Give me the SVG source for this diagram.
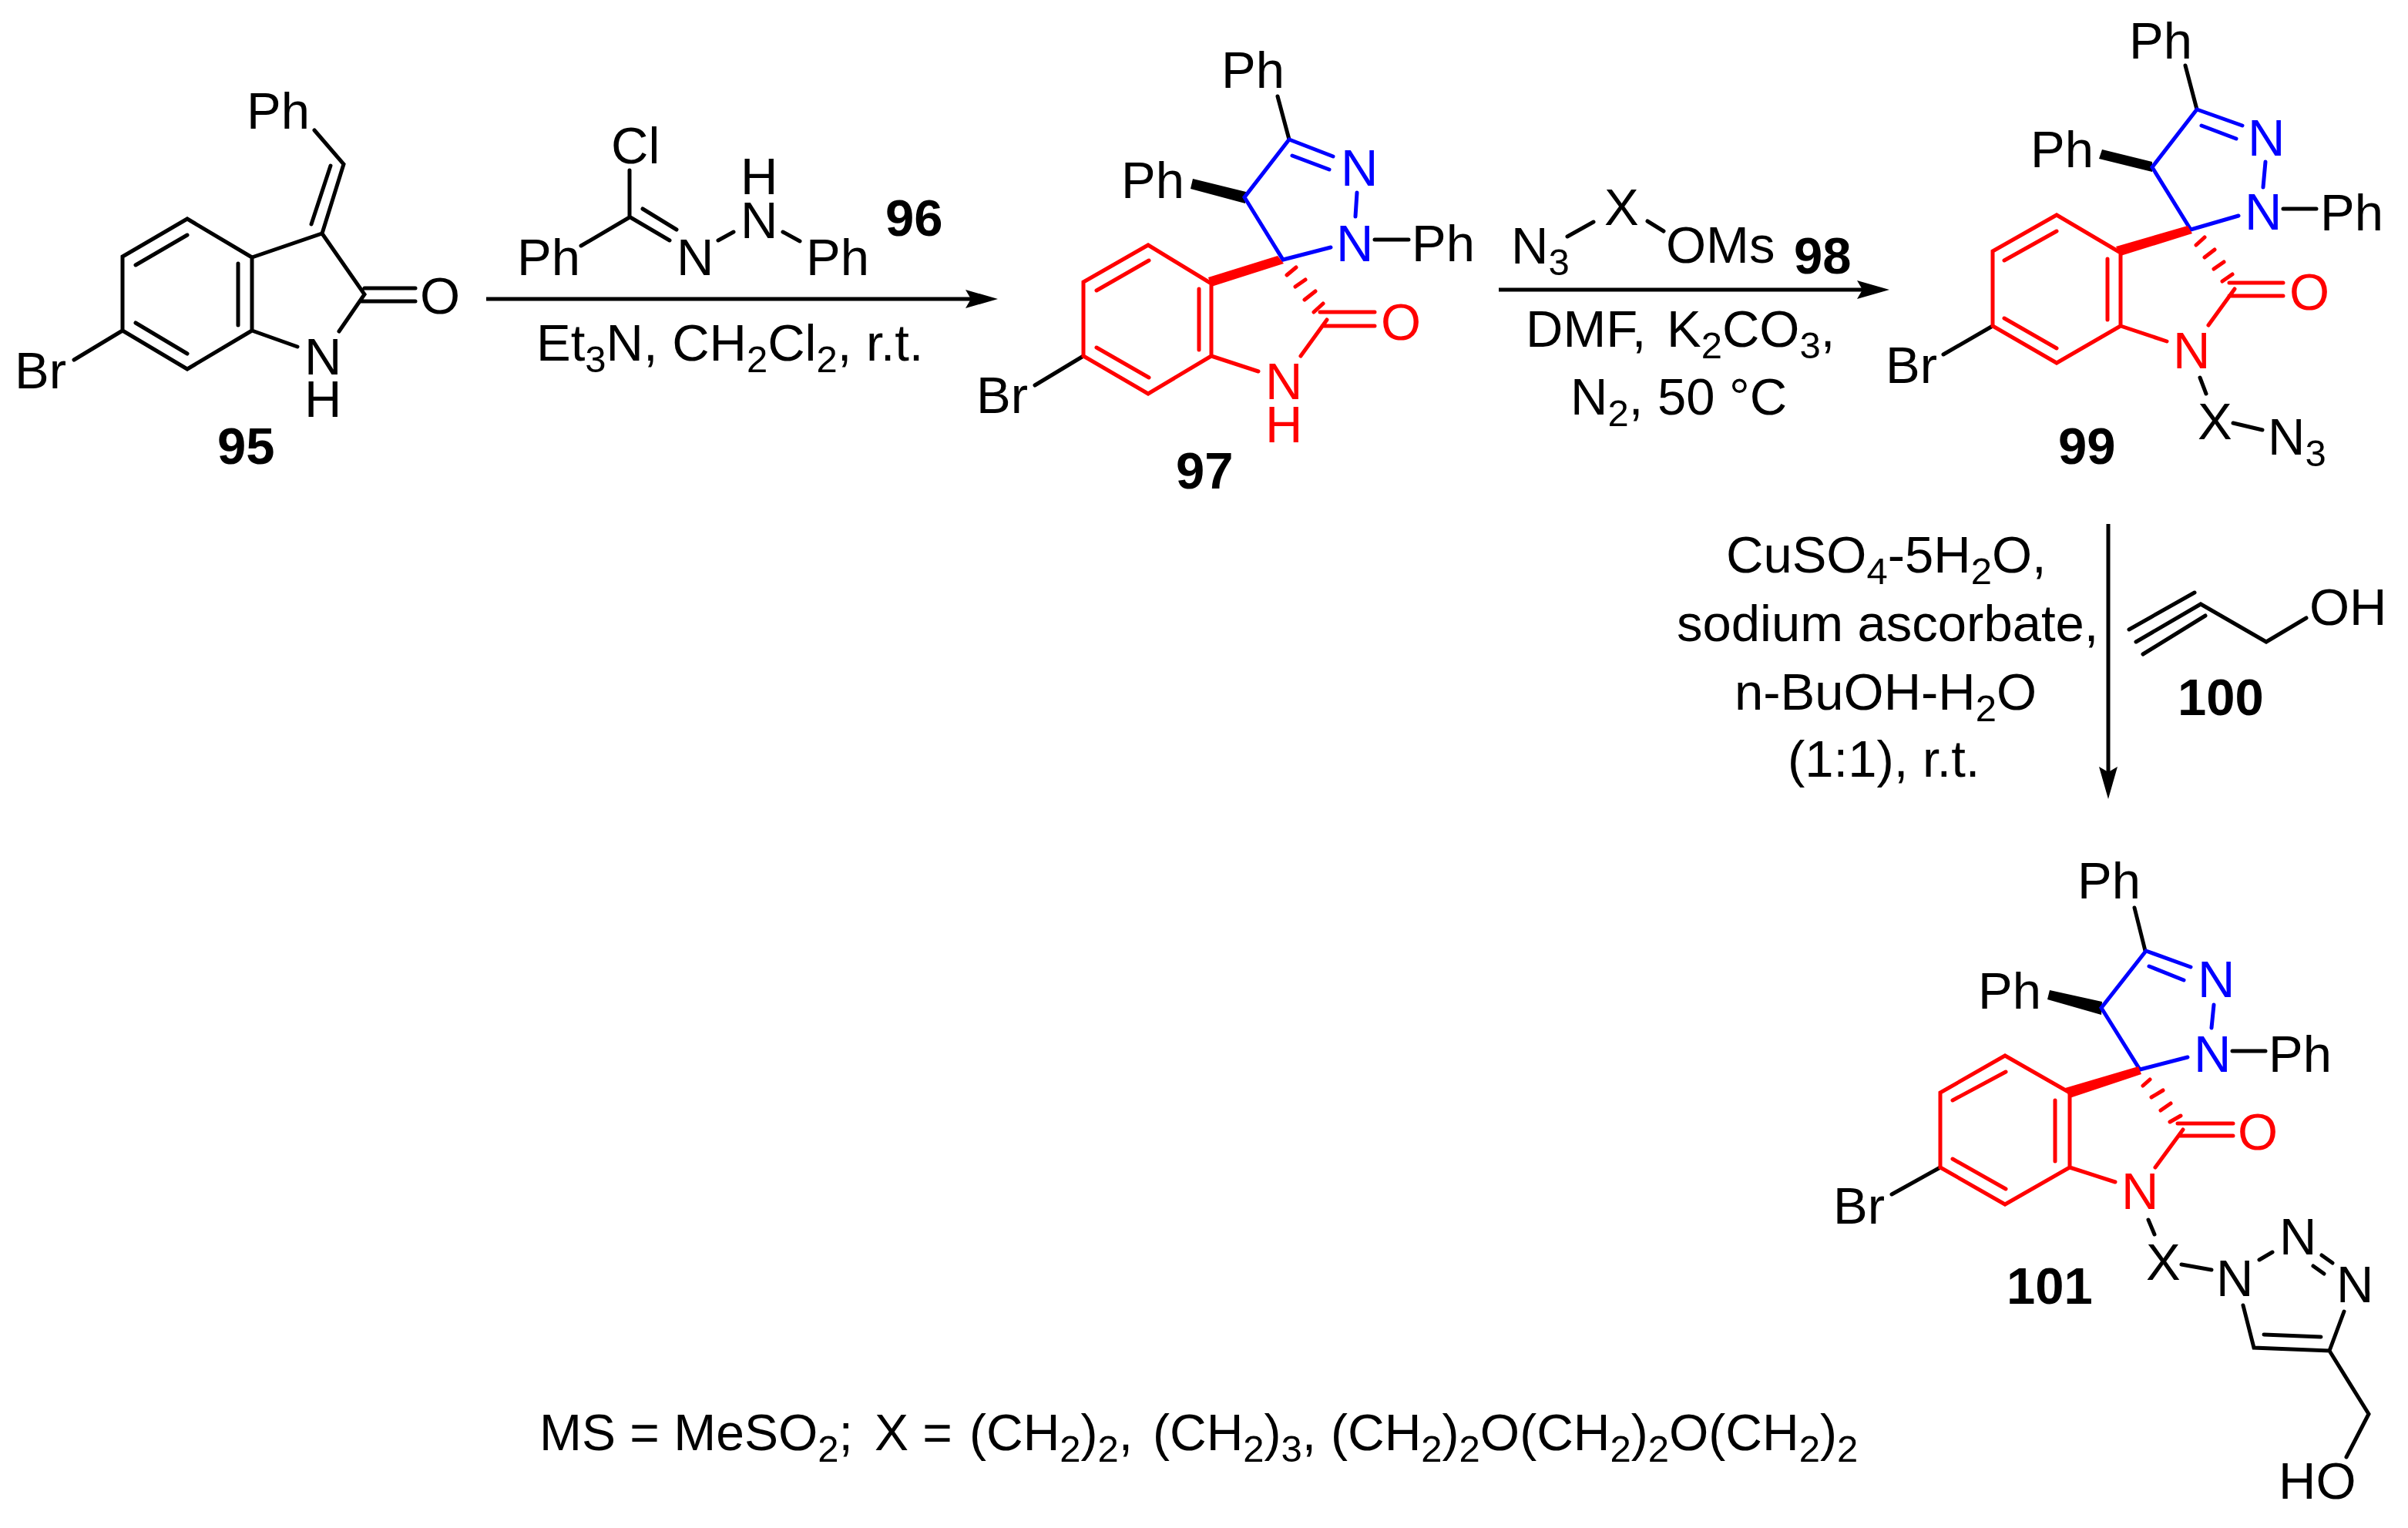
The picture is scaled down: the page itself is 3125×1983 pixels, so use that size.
<svg xmlns="http://www.w3.org/2000/svg" width="3125" height="1983" viewBox="0 0 3125 1983">
<style>
text{font-family:"Liberation Sans",Arial,sans-serif;font-size:67px;fill:#000}
text.r{fill:#f00}
text.b{fill:#00f}
text.n{font-weight:bold}
text.f{font-size:66px}
.s{font-size:49px}
path{fill:none;stroke-width:5;stroke-linecap:round;stroke-linejoin:miter}
path.k{stroke:#000}
path.r{stroke:#f00}
path.b{stroke:#00f}
polygon.k{fill:#000}
polygon.r{fill:#f00}
.a{stroke:#000;stroke-width:5;fill:none}
</style>
<defs>
<marker id="h" markerUnits="userSpaceOnUse" markerWidth="42" markerHeight="24" viewBox="0 0 42 24" refX="32" refY="12" orient="auto"><path d="M0,0L42,12L0,24L7,12Z" style="fill:#000;stroke:none"/></marker>
</defs>
<rect width="3125" height="1983" fill="#fff"/>

<g id="connectors">
<line class="a" x1="631" y1="388" x2="1285" y2="388" marker-end="url(#h)"/>
<line class="a" x1="1945" y1="376" x2="2442" y2="376" marker-end="url(#h)"/>
<line class="a" x1="2736" y1="680" x2="2736" y2="1027" marker-end="url(#h)"/>
</g>

<g id="node-95">
<path class="k" d="M243,284L159,333V429L243,479L327,429V334ZM176,344L243,305M176,419L243,459M309,342V422M327,334L418,303L473,382L440,430M327,429L386,450M418,303L446,213L408,169M404,291L429,215M473,374H539M469,391H539M159,429L96,467"/>
<text x="320" y="167">Ph</text><text x="545" y="407">O</text><text x="395" y="486">N</text><text x="395" y="541">H</text><text x="19" y="504">Br</text>
<text class="n" x="282" y="602">95</text>
</g>

<g id="node-96">
<path class="k" d="M817,221V282L754,319M818,282L869,312M834,271L878,298M932,312L952,301M1016,301L1038,313"/>
<text x="793" y="212">Cl</text><text x="671" y="357">Ph</text><text x="878" y="357">N</text><text x="961" y="309">N</text><text x="961" y="252">H</text><text x="1046" y="357">Ph</text>
<text class="n" x="1149" y="306">96</text>
</g>

<g id="conditions-1">
<text x="696" y="468">Et<tspan class="s" dy="15">3</tspan><tspan dy="-15">N, CH</tspan><tspan class="s" dy="15">2</tspan><tspan dy="-15">Cl</tspan><tspan class="s" dy="15">2</tspan><tspan dy="-15">, r.t.</tspan></text>
</g>

<g id="node-97">
<path class="k" d="M1658,125L1673,181M1784,311H1828M1406,462L1343,500"/>
<polygon class="k" points="1548,232 1545,245 1616,264 1617,249"/>
<path class="b" d="M1673,181L1615,256L1665,337L1727,321M1673,181L1730,203M1677,202L1725,220M1761,250L1759,281"/>
<path class="r" d="M1490,318L1406,366V462L1490,511L1572,462V368ZM1423,377L1491,338M1423,451L1491,490M1556,375V454M1670,357L1682,347M1681,372L1694,363M1693,389L1707,378M1705,405L1717,394M1713,405H1784M1716,423H1784M1722,415L1688,462M1572,462L1633,482"/>
<polygon class="r" points="1568,360 1572,372 1666,342 1658,332"/>
<text x="1585" y="114">Ph</text><text x="1455" y="257">Ph</text><text class="b" x="1740" y="241">N</text><text class="b" x="1734" y="339">N</text><text x="1832" y="339">Ph</text><text class="r" x="1792" y="441">O</text><text class="r" x="1642" y="518">N</text><text class="r" x="1642" y="574">H</text><text x="1267" y="536">Br</text>
<text class="n" x="1526" y="634">97</text>
</g>

<g id="node-98">
<path class="k" d="M2034,307L2068,288M2138,287L2159,300"/>
<text x="1961" y="342">N<tspan class="s" dy="15">3</tspan></text><text x="2082" y="292">X</text><text x="2162" y="341">OMs</text>
<text class="n" x="2328" y="355">98</text>
</g>

<g id="conditions-2">
<text x="1980" y="450">DMF,</text>
<text x="2163" y="450">K<tspan class="s" dy="15">2</tspan><tspan dy="-15">CO</tspan><tspan class="s" dy="15">3</tspan><tspan dy="-15">,</tspan></text>
<text x="2038" y="538">N<tspan class="s" dy="15">2</tspan><tspan dy="-15">, 50 °C</tspan></text>
</g>

<g id="node-99">
<path class="k" d="M2836,85L2851,142M2963,271H3006M2586,423L2522,460M2855,490L2863,511M2898,549L2936,558"/>
<polygon class="k" points="2728,194 2724,206 2793,223 2793,210"/>
<path class="b" d="M2851,142L2793,217L2843,298L2905,280M2851,142L2910,163M2857,163L2902,180M2940,210L2937,243"/>
<path class="r" d="M2669,279L2586,326V423L2669,471L2752,423V328ZM2601,338L2669,300M2601,413L2669,452M2735,336V415M2850,318L2861,308M2861,334L2874,324M2873,349L2886,340M2884,365L2897,356M2893,367H2963M2893,384H2963M2900,375L2866,422M2752,423L2812,443"/>
<polygon class="r" points="2746,320 2752,332 2845,303 2839,293"/>
<text x="2763" y="76">Ph</text><text x="2635" y="217">Ph</text><text class="b" x="2917" y="202">N</text><text class="b" x="2913" y="298">N</text><text x="3011" y="299">Ph</text><text class="r" x="2971" y="402">O</text><text class="r" x="2820" y="478">N</text><text x="2447" y="497">Br</text><text x="2852" y="570">X</text><text x="2943" y="590">N<tspan class="s" dy="15">3</tspan></text>
<text class="n" x="2671" y="602">99</text>
</g>

<g id="conditions-3">
<text x="2240" y="743">CuSO<tspan class="s" dy="15">4</tspan><tspan dy="-15">-5H</tspan><tspan class="s" dy="15">2</tspan><tspan dy="-15">O,</tspan></text>
<text x="2176" y="832">sodium ascorbate,</text>
<text x="2251" y="921">n-BuOH-H<tspan class="s" dy="15">2</tspan><tspan dy="-15">O</tspan></text>
<text x="2320" y="1008">(1:1), r.t.</text>
</g>

<g id="node-100">
<path class="k" d="M2772,833L2856,784L2941,833L2993,802M2763,817L2848,769M2781,849L2862,799"/>
<text x="2997" y="811">OH</text>
<text class="n" x="2826" y="928">100</text>
</g>

<g id="node-101">
<path class="k" d="M2770,1178L2784,1234M2897,1364H2940M2518,1515L2455,1550M2788,1583L2796,1602M2831,1641L2870,1648M2932,1635L2949,1625M3013,1629L3027,1639M3002,1643L3016,1653M2911,1694L2925,1749L3023,1753L3042,1702M2938,1732L3012,1735M3023,1753L3074,1835L3045,1891"/>
<polygon class="k" points="2660,1285 2657,1297 2727,1317 2728,1300"/>
<path class="b" d="M2785,1234L2727,1308L2777,1388L2839,1372M2785,1234L2843,1255M2789,1254L2834,1272M2873,1304L2870,1334"/>
<path class="r" d="M2602,1370L2518,1418V1515L2602,1563L2686,1515V1418ZM2534,1428L2603,1391M2534,1504L2603,1543M2667,1428V1507M2781,1409L2790,1401M2792,1424L2807,1415M2804,1441L2817,1432M2816,1456L2830,1448M2826,1458H2898M2829,1474H2898M2833,1466L2797,1515M2686,1515L2745,1534"/>
<polygon class="r" points="2680,1412 2686,1425 2779,1394 2775,1384"/>
<text x="2696" y="1166">Ph</text><text x="2567" y="1309">Ph</text><text class="b" x="2852" y="1294">N</text><text class="b" x="2847" y="1391">N</text><text x="2944" y="1391">Ph</text><text class="r" x="2904" y="1492">O</text><text class="r" x="2753" y="1569">N</text><text x="2379" y="1588">Br</text><text x="2785" y="1661">X</text><text x="2876" y="1682">N</text><text x="2958" y="1628">N</text><text x="3032" y="1690">N</text><text x="2957" y="1945">HO</text>
<text class="n" x="2604" y="1692">101</text>
</g>

<g id="footnote">
<text class="f" x="700" y="1882">MS = MeSO<tspan class="s" dy="15">2</tspan><tspan dy="-15">;</tspan></text>
<text class="f" x="1135" y="1882">X =</text>
<text class="f" x="1258" y="1882">(CH<tspan class="s" dy="15">2</tspan><tspan dy="-15">)</tspan><tspan class="s" dy="15">2</tspan><tspan dy="-15">,</tspan></text>
<text class="f" x="1496" y="1882">(CH<tspan class="s" dy="15">2</tspan><tspan dy="-15">)</tspan><tspan class="s" dy="15">3</tspan><tspan dy="-15">,</tspan></text>
<text class="f" x="1727" y="1882">(CH<tspan class="s" dy="15">2</tspan><tspan dy="-15">)</tspan><tspan class="s" dy="15">2</tspan><tspan dy="-15">O(CH</tspan><tspan class="s" dy="15">2</tspan><tspan dy="-15">)</tspan><tspan class="s" dy="15">2</tspan><tspan dy="-15">O(CH</tspan><tspan class="s" dy="15">2</tspan><tspan dy="-15">)</tspan><tspan class="s" dy="15">2</tspan></text>
</g>
</svg>
